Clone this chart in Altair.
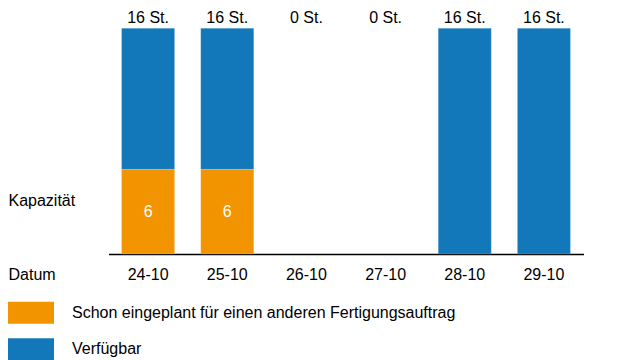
import altair as alt
import pandas as pd

dates = ["24-10", "25-10", "26-10", "27-10", "28-10", "29-10"]
planned = [6, 6, 0, 0, 0, 0]
available = [10, 10, 0, 0, 16, 16]
totals = [16, 16, 0, 0, 16, 16]
seg_names = ["Schon eingeplant für einen anderen Fertigungsauftrag", "Verfügbar"]
seg_colors = ["#F29400", "#1378BA"]

rows = []
for d, p, a in zip(dates, planned, available):
    rows.append({"date": d, "seg": seg_names[0], "ord": 0, "value": p})
    rows.append({"date": d, "seg": seg_names[1], "ord": 1, "value": a})
seg_df = pd.DataFrame(rows)
tot_df = pd.DataFrame({"date": dates, "total": totals})
lab_df = pd.DataFrame({"date": dates, "planned": planned})

FONT = "Liberation Sans"

x = alt.X(
    "date:N",
    sort=dates,
    scale=alt.Scale(domain=dates, range=[14.5, 489.5], paddingInner=0.33, paddingOuter=0.165),
    axis=alt.Axis(
        title="Datum", titleX=-86, titleY=20, titleAlign="left", titleBaseline="middle",
        titleFont=FONT, titleFontSize=16, titleFontWeight="normal", titleColor="#000",
        labelFont=FONT, labelFontSize=16, labelColor="#000", labelAngle=0,
        labelPadding=12, ticks=False, tickSize=0,
        domainColor="#000", domainWidth=1.5, grid=False,
    ),
)
yscale = alt.Scale(domain=[0, 16], range=[244, 18.3], nice=False, zero=True)

bars = alt.Chart(seg_df).transform_filter("datum.value > 0").mark_bar(
    stroke="#ffffff", strokeWidth=0.5, strokeOpacity=0.35
).encode(
    x=x,
    y=alt.Y(
        "value:Q", stack="zero", scale=yscale,
        axis=alt.Axis(
            title="Kapazität", titleAngle=0, titleX=-86, titleY=190.7,
            titleAlign="left", titleBaseline="middle", titleFont=FONT,
            titleFontSize=16, titleFontWeight="normal", titleColor="#000",
            labels=False, ticks=False, domain=False, grid=False,
        ),
    ),
    color=alt.Color(
        "seg:N",
        scale=alt.Scale(domain=seg_names, range=seg_colors),
        legend=alt.Legend(
            title=None, orient="none", legendX=-74, legendY=291.7,
            symbolType="M-2.0909,-1H2.0909V1H-2.0909Z", symbolSize=484,
            symbolStrokeWidth=0, symbolOpacity=1,
            labelFont=FONT, labelFontSize=16, labelColor="#000",
            labelOffset=30, rowPadding=14.5, padding=0, labelLimit=600,
        ),
    ),
    order=alt.Order("ord:Q"),
)

tops = alt.Chart(tot_df).transform_calculate(
    lbl="datum.total + ' St.'"
).mark_text(font=FONT, fontSize=16, color="#000", baseline="alphabetic").encode(
    x=alt.X("date:N", sort=dates),
    y=alt.value(13),
    text="lbl:N",
)

inner = alt.Chart(lab_df).transform_filter("datum.planned > 0").transform_calculate(
    mid="datum.planned / 2"
).mark_text(font=FONT, fontSize=16, color="#ffffff", baseline="middle").encode(
    x=alt.X("date:N", sort=dates),
    y=alt.Y("mid:Q"),
    text="planned:Q",
)

chart = alt.layer(bars, tops, inner).properties(
    width=519, height=244,
    autosize=alt.AutoSizeParams(type="none"),
    padding={"left": 86, "top": 2, "right": 0, "bottom": 106},
    background="#ffffff",
).configure_view(stroke=None)

chart.save("out.html", embed_options={"renderer": "svg", "actions": False})
